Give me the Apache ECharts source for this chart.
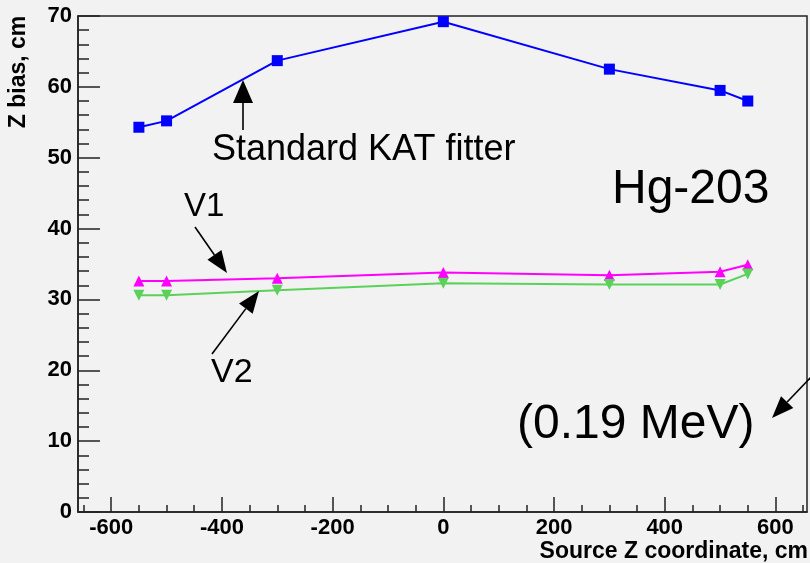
<!DOCTYPE html>
<html><head><meta charset="utf-8">
<script src="https://cdn.jsdelivr.net/npm/echarts@6/dist/echarts.min.js"></script>
<style>html,body{margin:0;padding:0;background:#f2f2f2}#c{width:810px;height:563px}</style>
</head><body><div id="c"></div>
<script>
// ---- data ----
const xSource = [-550, -500, -300, 0, 300, 500, 550];
const standardKAT = [54.3, 55.2, 63.7, 69.2, 62.5, 59.5, 58.0];
const v1 = [32.6, 32.6, 33.0, 33.8, 33.4, 33.9, 34.9];
const v2 = [30.6, 30.6, 31.3, 32.3, 32.1, 32.1, 33.6];
const xMajorTicks = [-600, -400, -200, 0, 200, 400, 600];
const xMinorTicks = [];
for (let v = -650; v <= 650; v += 50) xMinorTicks.push(v);

const pairs = (xs, ys) => xs.map((x, i) => [x, ys[i]]);

function arrow(x1, y1, x2, y2, hl, hw) {
  const dx = x2 - x1, dy = y2 - y1, L = Math.hypot(dx, dy);
  const ux = dx / L, uy = dy / L;
  const bx = x2 - ux * hl, by = y2 - uy * hl;
  const px = -uy * hw / 2, py = ux * hw / 2;
  return [
    {type: 'line', z: 100, shape: {x1: x1, y1: y1, x2: bx, y2: by}, style: {stroke: '#000', lineWidth: 1.6}},
    {type: 'polygon', z: 100, shape: {points: [[x2, y2], [bx + px, by + py], [bx - px, by - py]]}, style: {fill: '#000'}}
  ];
}

const chart = echarts.init(document.getElementById('c'));
const tickFont = {fontFamily: 'Liberation Sans, Arial, sans-serif', fontWeight: 'bold', fontSize: 22, color: '#000'};
chart.setOption({
  backgroundColor: '#f2f2f2',
  animation: false,
  grid: {left: 78, right: 3, top: 16, bottom: 51, show: true, borderColor: '#222', borderWidth: 1.5, backgroundColor: '#f2f2f2', outerBoundsMode: 'none'},
  xAxis: [{
    type: 'value', min: -660, max: 657, position: 'bottom',
    axisLine: {show: true, onZero: false, lineStyle: {color: '#222', width: 1.5}},
    axisTick: {show: true, inside: true, length: 15, customValues: xMajorTicks, lineStyle: {color: '#222', width: 1.5}},
    axisLabel: Object.assign({customValues: xMajorTicks, margin: 5}, tickFont),
    splitLine: {show: false}
  }, {
    type: 'value', min: -660, max: 657, position: 'bottom', gridIndex: 0,
    axisLine: {show: false, onZero: false},
    axisTick: {show: true, inside: true, length: 7, customValues: xMinorTicks, lineStyle: {color: '#222', width: 1.5}},
    axisLabel: {show: false},
    splitLine: {show: false}
  }],
  yAxis: {
    type: 'value', min: 0, max: 70, interval: 10,
    axisLine: {show: true, onZero: false, lineStyle: {color: '#222', width: 1.5}},
    axisTick: {show: true, inside: true, length: 22, lineStyle: {color: '#222', width: 1.5}},
    minorTick: {show: true, splitNumber: 5, length: 11, lineStyle: {color: '#222', width: 1.5}},
    axisLabel: Object.assign({margin: 6}, tickFont),
    splitLine: {show: false}
  },
  series: [
    {type: 'line', name: 'Standard KAT fitter', data: pairs(xSource, standardKAT), symbol: 'rect', symbolSize: 11,
     lineStyle: {color: '#0000ff', width: 2}, itemStyle: {color: '#0000ff'}},
    {type: 'line', name: 'V1', data: pairs(xSource, v1), symbol: 'triangle', symbolSize: 11,
     lineStyle: {color: '#ff00ff', width: 2}, itemStyle: {color: '#ff00ff'}},
    {type: 'line', name: 'V2', data: pairs(xSource, v2), symbol: 'triangle', symbolRotate: 180, symbolSize: 11,
     lineStyle: {color: '#5ad25a', width: 2}, itemStyle: {color: '#5ad25a'}}
  ],
  graphic: [
    {type: 'text', z: 100, x: 212, y: 150, style: {text: 'Standard KAT fitter', fontFamily: 'Liberation Sans, Arial, sans-serif', fontSize: 36, fill: '#000', textVerticalAlign: 'middle'}},
    {type: 'text', z: 100, x: 612, y: 190, style: {text: 'Hg-203', fontFamily: 'Liberation Sans, Arial, sans-serif', fontSize: 48, fill: '#000', textVerticalAlign: 'middle'}},
    {type: 'text', z: 100, x: 517, y: 425, style: {text: '(0.19 MeV)', fontFamily: 'Liberation Sans, Arial, sans-serif', fontSize: 48, fill: '#000', textVerticalAlign: 'middle'}},
    {type: 'text', z: 100, x: 184, y: 207, style: {text: 'V1', fontFamily: 'Liberation Sans, Arial, sans-serif', fontSize: 33, fill: '#000', textVerticalAlign: 'middle'}},
    {type: 'text', z: 100, x: 211, y: 373, style: {text: 'V2', fontFamily: 'Liberation Sans, Arial, sans-serif', fontSize: 34, fill: '#000', textVerticalAlign: 'middle'}},
    {type: 'text', z: 100, x: 808, y: 552, style: {text: 'Source Z coordinate, cm', fontFamily: 'Liberation Sans, Arial, sans-serif', fontWeight: 'bold', fontSize: 23, fill: '#000', textAlign: 'right', textVerticalAlign: 'middle'}},
    {type: 'text', z: 100, x: 19, y: 72, rotation: Math.PI / 2, style: {text: 'Z bias, cm', fontFamily: 'Liberation Sans, Arial, sans-serif', fontWeight: 'bold', fontSize: 23, fill: '#000', textAlign: 'center', textVerticalAlign: 'middle'}}
  ].concat(
    arrow(243, 130, 243, 80, 23, 20),
    arrow(195, 227, 227, 273, 22, 17),
    arrow(212, 354, 259, 291, 22, 17),
    arrow(812, 376, 772, 418, 22, 17)
  )
});
</script></body></html>
